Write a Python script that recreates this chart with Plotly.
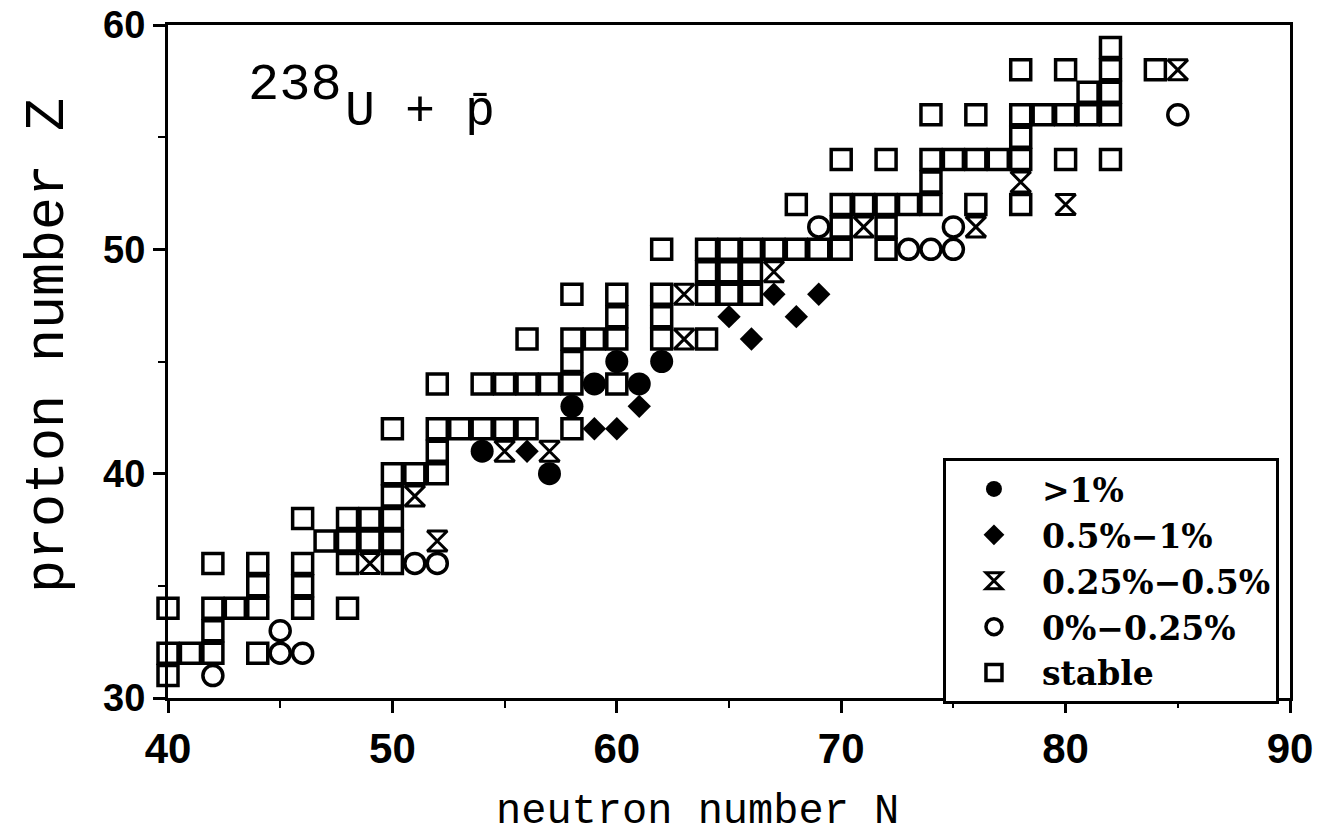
import plotly.graph_objects as go

# ---- data: (N, Z) of fission products, by yield class ----
gt1_N = [54, 57, 58, 59, 60, 61, 62]
gt1_Z = [41, 40, 43, 44, 45, 44, 45]

mid_N = [56, 59, 60, 61, 65, 66, 67, 68, 69]
mid_Z = [41, 42, 42, 43, 47, 46, 48, 47, 48]

low_N = [49, 51, 52, 55, 57, 63, 63, 67, 71, 76, 78, 80, 85]
low_Z = [36, 39, 37, 41, 41, 46, 48, 49, 51, 51, 53, 52, 58]

vlow_N = [42, 45, 45, 46, 51, 52, 69, 73, 74, 75, 75, 85]
vlow_Z = [31, 32, 33, 32, 36, 36, 51, 50, 50, 50, 51, 56]

stable_N = [40,
            40, 41, 42, 44,
            42,
            40, 42, 43, 44, 46, 48,
            44, 46,
            42, 44, 46, 48, 50,
            47, 48, 49, 50,
            46, 48, 49, 50,
            50,
            50, 51, 52,
            52,
            50, 52, 53, 54, 55, 56, 58,
            52, 54, 55, 56, 57, 58, 60,
            58,
            56, 58, 59, 60, 62, 64,
            60, 62,
            58, 60, 62, 64, 65, 66,
            64, 65, 66,
            62, 64, 65, 66, 67, 68, 69, 70, 72,
            70, 72,
            68, 70, 71, 72, 73, 74, 76, 78,
            74,
            70, 72, 74, 75, 76, 77, 78, 80, 82,
            78,
            74, 76, 78, 79, 80, 81, 82,
            81, 82,
            78, 80, 82, 84,
            82]
stable_Z = [31,
            32, 32, 32, 32,
            33,
            34, 34, 34, 34, 34, 34,
            35, 35,
            36, 36, 36, 36, 36,
            37, 37, 37, 37,
            38, 38, 38, 38,
            39,
            40, 40, 40,
            41,
            42, 42, 42, 42, 42, 42, 42,
            44, 44, 44, 44, 44, 44, 44,
            45,
            46, 46, 46, 46, 46, 46,
            47, 47,
            48, 48, 48, 48, 48, 48,
            49, 49, 49,
            50, 50, 50, 50, 50, 50, 50, 50, 50,
            51, 51,
            52, 52, 52, 52, 52, 52, 52, 52,
            53,
            54, 54, 54, 54, 54, 54, 54, 54, 54,
            55,
            56, 56, 56, 56, 56, 56, 56,
            57, 57,
            58, 58, 58, 58,
            59]

legend_labels = [">1%", "0.5%\u22121%", "0.25%\u22120.5%", "0%\u22120.25%", "stable"]
x_ticks = [40, 50, 60, 70, 80, 90]
y_ticks = [30, 40, 50, 60]

fig = go.Figure()
fig.add_trace(go.Scatter(x=gt1_N, y=gt1_Z, mode="markers", name=legend_labels[0],
                         marker=dict(symbol="circle", size=23, color="black"),
                         cliponaxis=False))
fig.add_trace(go.Scatter(x=mid_N, y=mid_Z, mode="markers", name=legend_labels[1],
                         marker=dict(symbol="diamond", size=18, color="black"),
                         cliponaxis=False))
fig.add_trace(go.Scatter(x=low_N, y=low_Z, mode="markers", name=legend_labels[2],
                         marker=dict(symbol="hourglass-open", size=20, color="black",
                                     line=dict(width=3, color="black")),
                         cliponaxis=False))
fig.add_trace(go.Scatter(x=vlow_N, y=vlow_Z, mode="markers", name=legend_labels[3],
                         marker=dict(symbol="circle-open", size=20, color="black",
                                     line=dict(width=3.5, color="black")),
                         cliponaxis=False))
fig.add_trace(go.Scatter(x=stable_N, y=stable_Z, mode="markers", name=legend_labels[4],
                         marker=dict(symbol="square-open", size=20, color="black",
                                     line=dict(width=3.5, color="black")),
                         cliponaxis=False))

xtickfont = dict(family="Liberation Sans Narrow, Liberation Sans, Arial", size=42,
                 color="black", weight="bold")
ytickfont = dict(family="Liberation Sans Narrow, Liberation Sans, Arial", size=38,
                 color="black", weight="bold")

fig.update_layout(
    width=1320, height=840,
    margin=dict(l=168, r=30, t=25, b=142, autoexpand=False),
    paper_bgcolor="white", plot_bgcolor="white",
    showlegend=True,
    legend=dict(x=0.6907, y=0.3566, xanchor="left", yanchor="top",
                bordercolor="black", borderwidth=3, bgcolor="white",
                font=dict(family="DejaVu Serif", size=33, color="black", weight="bold"),
                traceorder="normal", itemwidth=86),
    xaxis=dict(range=[40, 90], tickvals=x_ticks, ticks="outside", ticklen=12,
               tickwidth=3, tickcolor="black", showline=True, linewidth=3,
               linecolor="black", mirror=True, showgrid=False, zeroline=False,
               tickfont=xtickfont, ticklabeloverflow="allow", automargin=False,
               minor=dict(dtick=5, ticks="outside", ticklen=7, tickwidth=2,
                          tickcolor="black", showgrid=False)),
    yaxis=dict(range=[30, 60], tickvals=y_ticks, ticks="outside", ticklen=12,
               tickwidth=3, tickcolor="black", showline=True, linewidth=3,
               linecolor="black", mirror=True, showgrid=False, zeroline=False,
               tickfont=ytickfont, ticklabeloverflow="allow", automargin=False,
               minor=dict(dtick=5, ticks="outside", ticklen=7, tickwidth=2,
                          tickcolor="black", showgrid=False)),
)

fig.add_annotation(text="neutron number N", xref="paper", yref="paper",
                   x=0.4715, y=-0.170, xanchor="center", yanchor="middle",
                   showarrow=False,
                   font=dict(family="Liberation Mono", size=42, color="black"))
fig.add_annotation(text="proton number Z", xref="paper", yref="paper",
                   x=-0.107, y=0.5245, xanchor="center", yanchor="middle",
                   textangle=-90, showarrow=False,
                   font=dict(family="Liberation Mono", size=55, color="black"))
fig.add_annotation(text="238", xref="paper", yref="paper",
                   x=0.1132, y=0.9108, xanchor="center", yanchor="middle",
                   showarrow=False,
                   font=dict(family="Liberation Mono", size=52, color="black"))
fig.add_annotation(text="U + p\u0304", xref="paper", yref="paper",
                   x=0.156, y=0.871, xanchor="left", yanchor="middle",
                   showarrow=False,
                   font=dict(family="Liberation Mono", size=50, color="black"))

fig.write_html("out.html",
               config={"displayModeBar": False},
               post_script="document.body.style.margin='0';"
                           "document.body.style.overflow='hidden';")
